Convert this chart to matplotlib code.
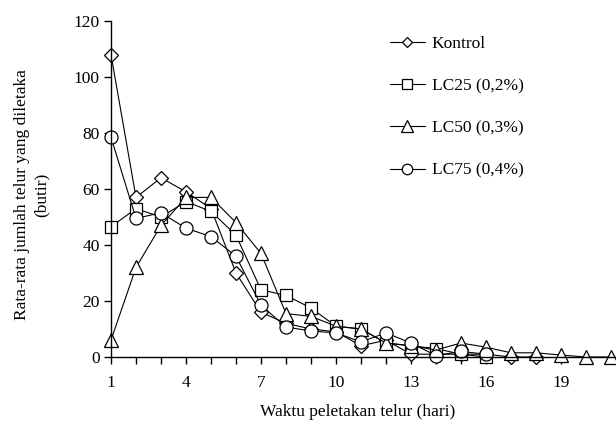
import matplotlib
matplotlib.use("Agg")
import matplotlib.pyplot as plt
from matplotlib.ticker import FixedLocator, FuncFormatter

plt.rcParams['font.family'] = ['Liberation Serif', 'DejaVu Serif']

# hari peletakan telur
days_kontrol = list(range(1, 19))
kontrol = [108, 57, 64, 59, 53, 30, 16, 12, 10, 9, 4, 6, 1, 1, 1, 1, 0, 0]

days_lc25 = list(range(1, 17))
lc25 = [46.5, 53, 50, 55.5, 52, 43.5, 24, 22, 17.5, 11, 10, 5, 4, 3, 1, 0]

days_lc50 = list(range(1, 22))
lc50 = [6, 32, 47, 57, 57, 48, 37, 15.5, 14.5, 11, 10, 5, 4, 2.5, 5, 3.5, 1.5, 1.5, 0.7, 0, 0]

days_lc75 = list(range(1, 17))
lc75 = [78.5, 49.5, 51.5, 46, 43, 36, 18.5, 10.7, 9.3, 8.6, 5.4, 8.6, 5, 0.5, 2, 1]

labels = ["Kontrol", "LC25 (0,2%)", "LC50 (0,3%)", "LC75 (0,4%)"]
y_ticks = [0, 20, 40, 60, 80, 100, 120]

W, H = 616, 425
fig = plt.figure(figsize=(W / 100, H / 100), dpi=100)
ax = fig.add_axes([111 / W, 1 - 357 / H, (616 - 111) / W, (357 - 21) / H])

style = dict(color="black", linewidth=0.8, markerfacecolor="white",
             markeredgecolor="black", markeredgewidth=0.9, clip_on=False)
ax.plot(days_kontrol, kontrol, marker="D", markersize=7.0, label=labels[0], **style)
ax.plot(days_lc25, lc25, marker="s", markersize=9.2, label=labels[1], **style)
ax.plot(days_lc50, lc50, marker="^", markersize=10, label=labels[2], **style)
ax.plot(days_lc75, lc75, marker="o", markersize=9.4, label=labels[3], **style)

ax.set_xlim(1, 21.2)
ax.set_ylim(0, 120)
ax.xaxis.set_major_locator(FixedLocator(list(range(1, 22))))
ax.xaxis.set_major_formatter(FuncFormatter(lambda v, p: str(int(v)) if (int(v) - 1) % 3 == 0 else ""))
ax.set_yticks(y_ticks)

for side in ["top", "right"]:
    ax.spines[side].set_visible(False)
for side in ["left", "bottom"]:
    ax.spines[side].set_linewidth(1.0)
ax.tick_params(direction="out", length=5, width=1.0, labelsize=12.5, pad=8)
ax.tick_params(axis="y", pad=3)

leg = ax.legend(loc="upper left", bbox_to_anchor=(390 / W, 1 - 36 / H),
                bbox_transform=fig.transFigure, frameon=False, fontsize=12.5,
                handlelength=2.0, handletextpad=0.4, labelspacing=1.5,
                borderpad=0, borderaxespad=0, markerscale=0.8)

fig.text(32 / W, 1 - 195 / H, "Rata-rata jumlah telur yang diletaka\n(butir)",
         rotation=90, ha="center", va="center", multialignment="center",
         fontsize=12.5, linespacing=1.3)
fig.text(358 / W, 1 - 412 / H, "Waktu peletakan telur (hari)",
         ha="center", va="center", fontsize=12.5)

fig.savefig("out.png", dpi=100)
